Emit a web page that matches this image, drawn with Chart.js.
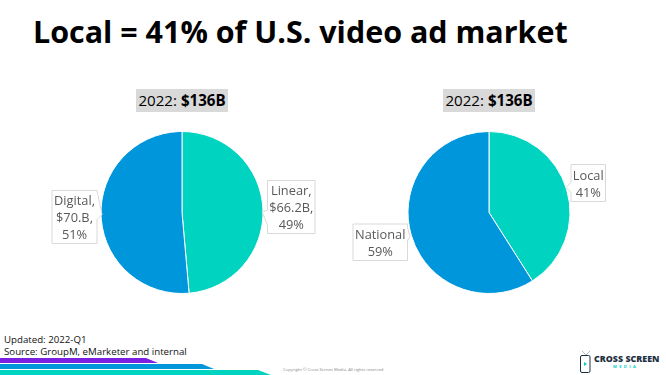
<!DOCTYPE html>
<html>
<head>
<meta charset="utf-8">
<title>Local = 41% of U.S. video ad market</title>
<script src="https://cdn.jsdelivr.net/npm/chart.js@4/dist/chart.umd.min.js"></script>
<style>
  html, body { margin: 0; padding: 0; background: #fff; }
  body { position: relative; width: 666px; height: 375px; overflow: hidden; font-family: "Open Sans", sans-serif; }
  .abs { position: absolute; white-space: nowrap; }
  #title { left: 33px; top: 10px; font-size: 30.45px; line-height: 42px; font-weight: 700; color: #000; }
  .total { background: #d9d9d9; color: #000; font-size: 15.1px; line-height: 22px; height: 23px; text-align: center; }
  #total1 { left: 136px; top: 89px; width: 92px; }
  #total2 { left: 443px; top: 89px; width: 92px; }
  #notes { left: 4px; top: 334px; font-size: 9.7px; line-height: 12px; color: #111; }
  #copyright { left: 283px; top: 367px; font-size: 4.2px; line-height: 6px; color: #888; }
  canvas { position: absolute; }
  #pie1 { left: 32px; top: 111px; }
  #pie2 { left: 339px; top: 111px; }
  .stripe { position: absolute; left: 0; }
  #s1 { top: 358px; width: 158px; height: 5px; background: #7b1fe0; clip-path: polygon(0 0, 146px 0, 100% 100%, 0 100%); }
  #s2 { top: 364px; width: 214px; height: 5px; background: #0096dc; clip-path: polygon(0 0, 202px 0, 100% 100%, 0 100%); }
  #s3 { top: 370px; width: 271px; height: 5px; background: #00d3bf; clip-path: polygon(0 0, 258px 0, 100% 100%, 0 100%); }
  #logoMain { left: 594px; top: 354px; font-size: 8.9px; line-height: 10px; font-weight: 800; color: #1d3041; }
  #logoSub { left: 613px; top: 364px; font-size: 4px; line-height: 5px; font-weight: 700; letter-spacing: 2.4px; color: #00d3bf; }
  #logoIcon { position: absolute; left: 579px; top: 350px; }
</style>
</head>
<body>
<div class="abs" id="title">Local = 41% of U.S. video ad market</div>
<div class="abs total" id="total1">2022: <b>$136B</b></div>
<div class="abs total" id="total2">2022: <b>$136B</b></div>
<canvas id="pie1" width="300" height="203"></canvas>
<canvas id="pie2" width="300" height="203"></canvas>
<div class="abs" id="notes">Updated: 2022-Q1<br>Source: GroupM, eMarketer and internal</div>
<div class="stripe" id="s1"></div>
<div class="stripe" id="s2"></div>
<div class="stripe" id="s3"></div>
<div class="abs" id="copyright">Copyright © Cross Screen Media. All rights reserved</div>
<svg id="logoIcon" width="14" height="24" viewBox="0 0 14 24">
  <path d="M3 1 L7 5 L11 1" fill="none" stroke="#9aa3aa" stroke-width="0.7"/>
  <rect x="1.5" y="5.5" width="9.5" height="17" rx="1.5" fill="none" stroke="#1d3041" stroke-width="1"/>
  <path d="M5 12 L8 14 L5 16 Z" fill="#00d3bf"/>
</svg>
<div class="abs" id="logoMain">CROSS SCREEN</div>
<div class="abs" id="logoSub">MEDIA</div>

<script>
// Values
const typeCategories = ['Linear', 'Digital'];
const typeValues = [66.2, 70];
const typeLabels = [['Linear,', '$66.2B,', '49%'], ['Digital,', '$70.B,', '51%']];

const marketCategories = ['Local', 'National'];
const marketValues = [41, 59];
const marketLabels = [['Local', '41%'], ['National', '59%']];

const sliceColors = ['#00d3bf', '#0096dc'];

// Callout boxes, relative to the pie centre: box x, y, w, h, pointer tip and how far
// the pointer base runs up and down the box edge
const typeCallouts = [
  { x: 85.5, y: -32, w: 47.5, h: 53, tipX: 80, tipY: -1, up: 1, down: 14 },
  { x: -130, y: -22, w: 45, h: 53, tipX: -80, tipY: 2, up: 24, down: 5 }
];
const marketCallouts = [
  { x: 82, y: -48, w: 34.5, h: 37, tipX: 77, tipY: -25, up: 5, down: 5 },
  { x: -136, y: 11.5, w: 54.5, h: 36.5, tipX: -79, tipY: 24, up: 9, down: 4 }
];

// Draws the grey-outlined callout labels next to each slice
const calloutPlugin = {
  id: 'callouts',
  afterDraw(chart, args, opts) {
    const arc = chart.getDatasetMeta(0).data[0];
    const ctx = chart.ctx;
    ctx.save();
    opts.boxes.forEach((b, i) => {
      const x = arc.x + b.x, y = arc.y + b.y;
      const tipX = arc.x + b.tipX, tipY = arc.y + b.tipY;
      const right = b.tipX > 0;
      const edge = right ? x : x + b.w;
      ctx.beginPath();
      ctx.moveTo(x, y);
      if (right) {
        ctx.lineTo(x + b.w, y);
        ctx.lineTo(x + b.w, y + b.h);
        ctx.lineTo(x, y + b.h);
        ctx.lineTo(edge, tipY + b.down);
        ctx.lineTo(tipX, tipY);
        ctx.lineTo(edge, tipY - b.up);
      } else {
        ctx.lineTo(x + b.w, y);
        ctx.lineTo(edge, tipY - b.up);
        ctx.lineTo(tipX, tipY);
        ctx.lineTo(edge, tipY + b.down);
        ctx.lineTo(x + b.w, y + b.h);
        ctx.lineTo(x, y + b.h);
      }
      ctx.closePath();
      ctx.fillStyle = '#fff';
      ctx.fill();
      ctx.strokeStyle = '#d9d9d9';
      ctx.lineWidth = 1;
      ctx.stroke();

      ctx.fillStyle = '#595959';
      ctx.font = '12.8px "Open Sans"';
      ctx.textAlign = 'center';
      ctx.textBaseline = 'middle';
      const lines = opts.labels[i];
      const lineH = 17;
      lines.forEach((line, n) => {
        ctx.fillText(line, x + b.w / 2, y + b.h / 2 + 1.5 + (n - (lines.length - 1) / 2) * lineH);
      });
    });
    ctx.restore();
  }
};

function makePie(id, categories, values, labels, boxes) {
  new Chart(document.getElementById(id), {
    type: 'pie',
    data: {
      labels: categories,
      datasets: [{
        data: values,
        backgroundColor: sliceColors,
        borderColor: '#ffffff',
        borderWidth: 1
      }]
    },
    options: {
      responsive: false,
      animation: false,
      layout: { padding: { top: 20, bottom: 20 } },
      plugins: {
        legend: { display: false },
        tooltip: { enabled: false },
        callouts: { labels: labels, boxes: boxes }
      }
    },
    plugins: [calloutPlugin]
  });
}

makePie('pie1', typeCategories, typeValues, typeLabels, typeCallouts);
makePie('pie2', marketCategories, marketValues, marketLabels, marketCallouts);
</script>
</body>
</html>
